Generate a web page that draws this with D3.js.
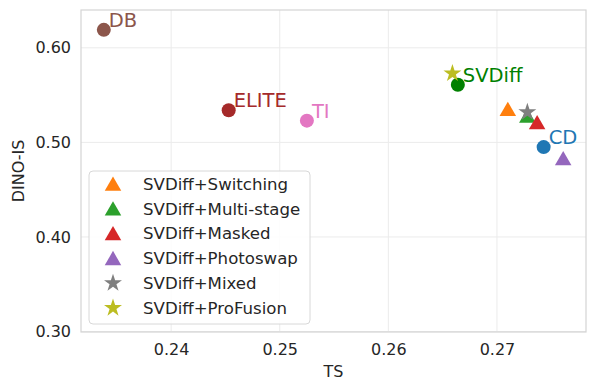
<!DOCTYPE html>
<html>
<head>
<meta charset="utf-8">
<script src="https://cdn.jsdelivr.net/npm/d3@7"></script>
<style>
  body { margin: 0; background: #fff; }
  text { font-family: "DejaVu Sans", sans-serif; }
</style>
</head>
<body>
<div id="chart"></div>
<script>
// Data
const methods = ["DB", "ELITE", "TI", "SVDiff", "CD"];
const methodTS = [0.2338, 0.2453, 0.2525, 0.2664, 0.2743];
const methodDINO = [0.619, 0.534, 0.523, 0.561, 0.495];
const methodColors = ["#8c564b", "#a52a2a", "#e377c2", "#008000", "#1f77b4"];

const variants = ["SVDiff+Switching", "SVDiff+Multi-stage", "SVDiff+Masked", "SVDiff+Photoswap", "SVDiff+Mixed", "SVDiff+ProFusion"];
const variantTS = [0.2710, 0.2728, 0.2737, 0.2761, 0.2728, 0.2659];
const variantDINO = [0.535, 0.528, 0.521, 0.483, 0.532, 0.573];
const variantShapes = ["triangle", "triangle", "triangle", "triangle", "star", "star"];
const variantColors = ["#ff7f0e", "#2ca02c", "#d62728", "#9467bd", "#7f7f7f", "#bcbd22"];

const xTicks = [0.24, 0.25, 0.26, 0.27];
const yTicks = [0.30, 0.40, 0.50, 0.60];

const svg = d3.select("#chart").append("svg")
  .attr("width", 598)
  .attr("height", 390);

const margin = {top: 10, right: 12, bottom: 58, left: 81},
  width = 598 - margin.left - margin.right,
  height = 390 - margin.top - margin.bottom;

const g = svg.append("g").attr("transform", "translate(" + margin.left + "," + margin.top + ")");

const x = d3.scaleLinear().domain([0.2317, 0.2782]).range([0, width]);
const y = d3.scaleLinear().domain([0.2995, 0.640]).range([height, 0]);

// grid
g.append("g").selectAll("line")
  .data(xTicks).enter().append("line")
  .attr("x1", d => x(d)).attr("x2", d => x(d))
  .attr("y1", 0).attr("y2", height)
  .attr("stroke", "#ebebeb");
g.append("g").selectAll("line")
  .data(yTicks).enter().append("line")
  .attr("y1", d => y(d)).attr("y2", d => y(d))
  .attr("x1", 0).attr("x2", width)
  .attr("stroke", "#ebebeb");

// frame
g.append("rect")
  .attr("width", width).attr("height", height)
  .attr("fill", "none").attr("stroke", "#d4d4d4").attr("stroke-width", 1.2);

// axes
const xAxis = g.append("g")
  .attr("transform", "translate(0," + height + ")")
  .call(d3.axisBottom(x).tickValues(xTicks).tickFormat(d3.format(".2f")).tickSize(0).tickPadding(12));
const yAxis = g.append("g")
  .call(d3.axisLeft(y).tickValues(yTicks).tickFormat(d3.format(".2f")).tickSize(0).tickPadding(10));
[xAxis, yAxis].forEach(a => {
  a.select(".domain").remove();
  a.selectAll("text").attr("font-size", 16).attr("fill", "#262626");
});

g.append("text")
  .attr("x", width / 2).attr("y", height + 45)
  .attr("text-anchor", "middle").attr("font-size", 16).attr("fill", "#262626")
  .text("TS");
g.append("text")
  .attr("transform", "translate(" + (-57) + "," + (height / 2) + ") rotate(-90)")
  .attr("text-anchor", "middle").attr("font-size", 16).attr("fill", "#262626")
  .text("DINO-IS");

const symbolFor = s => s === "star" ? d3.symbolStar : d3.symbolTriangle;
const sizeFor = s => s === "star" ? 100 : 118;

// methods (circles + labels)
methods.forEach((m, i) => {
  g.append("circle")
    .attr("cx", x(methodTS[i])).attr("cy", y(methodDINO[i]))
    .attr("r", 7).attr("fill", methodColors[i]);
  g.append("text")
    .attr("x", x(methodTS[i]) + 5).attr("y", y(methodDINO[i]) - 3)
    .attr("font-size", 19.5).attr("fill", methodColors[i])
    .text(m);
});

// variants
variants.forEach((v, i) => {
  const off = variantShapes[i] === "triangle" ? 2 : 0;
  g.append("path")
    .attr("d", d3.symbol().type(symbolFor(variantShapes[i])).size(sizeFor(variantShapes[i])))
    .attr("transform", "translate(" + x(variantTS[i]) + "," + (y(variantDINO[i]) + off) + ")")
    .attr("fill", variantColors[i]);
});

// legend
const legend = g.append("g").attr("transform", "translate(8,161)");
legend.append("rect")
  .attr("width", 221).attr("height", 153).attr("rx", 4)
  .attr("fill", "#fff").attr("fill-opacity", 0.85)
  .attr("stroke", "#d8d8d8");
const items = legend.selectAll(".item")
  .data(variants).enter().append("g")
  .attr("class", "item")
  .attr("transform", (d, i) => "translate(0," + (13 + i * 24.8) + ")");
items.append("path")
  .attr("d", (d, i) => d3.symbol().type(symbolFor(variantShapes[i])).size(sizeFor(variantShapes[i]))())
  .attr("transform", (d, i) => "translate(24," + (variantShapes[i] === "triangle" ? 2 : 0) + ")")
  .attr("fill", (d, i) => variantColors[i]);
items.append("text")
  .attr("x", 54).attr("dy", "0.35em")
  .attr("font-size", 16.6).attr("fill", "#262626")
  .text(d => d);
</script>
</body>
</html>
